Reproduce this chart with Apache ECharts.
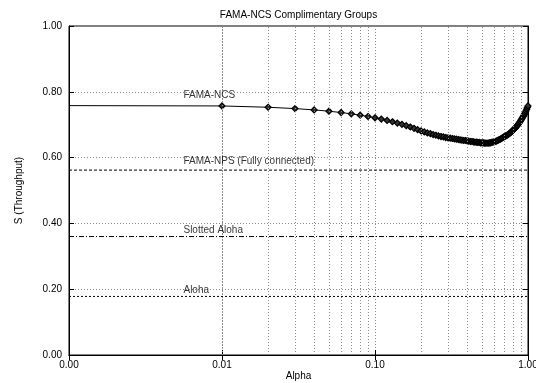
<!DOCTYPE html>
<html>
<head>
<meta charset="utf-8">
<script src="https://cdn.jsdelivr.net/npm/echarts@6/dist/echarts.min.js"></script>
<style>
  html, body { margin: 0; padding: 0; background: #fff; }
  #chart { width: 536px; height: 383px; }
</style>
</head>
<body>
<div id="chart"></div>
<script>
// Alpha sample points (first one only anchors the line at the left edge)
const alpha = [
  0.001,
  0.01, 0.02, 0.03, 0.04, 0.05, 0.06, 0.07, 0.08, 0.09, 0.10,
  0.11, 0.12, 0.13, 0.14, 0.15, 0.16, 0.17, 0.18, 0.19, 0.20,
  0.21, 0.22, 0.23, 0.24, 0.25, 0.26, 0.27, 0.28, 0.29, 0.30,
  0.31, 0.32, 0.33, 0.34, 0.35, 0.36, 0.37, 0.38, 0.39, 0.40,
  0.41, 0.42, 0.43, 0.44, 0.45, 0.46, 0.47, 0.48, 0.49, 0.50,
  0.51, 0.52, 0.53, 0.54, 0.55, 0.56, 0.57, 0.58, 0.59, 0.60,
  0.61, 0.62, 0.63, 0.64, 0.65, 0.66, 0.67, 0.68, 0.69, 0.70,
  0.71, 0.72, 0.73, 0.74, 0.75, 0.76, 0.77, 0.78, 0.79, 0.80,
  0.81, 0.82, 0.83, 0.84, 0.85, 0.86, 0.87, 0.88, 0.89, 0.90,
  0.91, 0.92, 0.93, 0.94, 0.95, 0.96, 0.97, 0.98, 0.99, 1.00
];

// FAMA-NCS throughput S for each alpha
const famaNcs = [
  0.758,
  0.757, 0.753, 0.749, 0.745, 0.741, 0.737, 0.733, 0.729, 0.725, 0.721,
  0.717, 0.713, 0.709, 0.705, 0.701, 0.697, 0.693, 0.689, 0.685, 0.681,
  0.678, 0.675, 0.673, 0.670, 0.668, 0.666, 0.664, 0.663, 0.661, 0.660,
  0.659, 0.658, 0.657, 0.656, 0.655, 0.654, 0.653, 0.652, 0.652, 0.651,
  0.650, 0.649, 0.649, 0.648, 0.647, 0.647, 0.646, 0.646, 0.645, 0.645,
  0.645, 0.644, 0.644, 0.644, 0.644, 0.645, 0.645, 0.646, 0.647, 0.648,
  0.649, 0.650, 0.652, 0.653, 0.655, 0.656, 0.658, 0.660, 0.662, 0.664,
  0.665, 0.667, 0.668, 0.670, 0.672, 0.674, 0.676, 0.679, 0.681, 0.684,
  0.686, 0.689, 0.691, 0.694, 0.697, 0.700, 0.704, 0.707, 0.710, 0.714,
  0.717, 0.721, 0.725, 0.729, 0.733, 0.737, 0.742, 0.747, 0.752, 0.757
];

// Constant-throughput reference protocols
const famaNpsLevel = 0.562;
const slottedAlohaLevel = 0.360;
const alohaLevel = 0.178;

// Axis extents
const alphaRange = [0.001, 1];
const sRange = [0, 1];
const sStep = 0.2;

// Intermediate log grid lines (2..9 within each decade)
const alphaMinorGrid = [
  0.002, 0.003, 0.004, 0.005, 0.006, 0.007, 0.008, 0.009,
  0.02, 0.03, 0.04, 0.05, 0.06, 0.07, 0.08, 0.09,
  0.2, 0.3, 0.4, 0.5, 0.6, 0.7, 0.8, 0.9
];

// In-plot curve captions: text, anchor alpha, anchor S
const captionText = ['FAMA-NCS', 'FAMA-NPS (Fully connected)', 'Slotted Aloha', 'Aloha'];
const captionAlpha = [0.0056, 0.0056, 0.0056, 0.0056];
const captionS = [0.790, 0.588, 0.378, 0.198];

const FONT = "'Liberation Sans', Arial, Helvetica, sans-serif";
const gridDots = { color: '#8c8c8c', width: 1, type: [1, 2] };

const ncsData = alpha.map((a, i) =>
  i === 0 ? { value: [a, famaNcs[i]], symbol: 'none' } : [a, famaNcs[i]]
);
const flat = v => [[alphaRange[0], v], [alphaRange[1], v]];

const chart = echarts.init(document.getElementById('chart'), null, { renderer: 'canvas' });

chart.setOption({
  animation: false,
  backgroundColor: '#fff',
  textStyle: { fontFamily: FONT },
  grid: {
    left: 69, right: 8, top: 26, bottom: 28,
    containLabel: false,
    outerBoundsMode: 'none',
    show: true, borderColor: '#000', borderWidth: 1
  },
  xAxis: [
    {
      type: 'log', logBase: 10, min: alphaRange[0], max: alphaRange[1],
      position: 'bottom',
      name: 'Alpha', nameLocation: 'middle', nameGap: 16, nameMoveOverlap: false,
      nameTextStyle: { fontFamily: FONT, fontSize: 10, color: '#000' },
      axisLine: { show: true, lineStyle: { color: '#000', width: 1 } },
      axisTick: { show: true, inside: true, length: 5, lineStyle: { color: '#000' } },
      axisLabel: {
        fontFamily: FONT, fontSize: 10, color: '#000', margin: 5,
        showMinLabel: true, showMaxLabel: true,
        formatter: v => Number(v).toFixed(2)
      },
      splitLine: { show: true, lineStyle: gridDots }
    },
    {
      type: 'log', logBase: 10, min: alphaRange[0], max: alphaRange[1],
      position: 'top',
      name: 'FAMA-NCS Complimentary Groups', nameLocation: 'middle', nameGap: 6,
      nameMoveOverlap: false,
      nameTextStyle: { fontFamily: FONT, fontSize: 10, color: '#000' },
      axisLine: { show: true, lineStyle: { color: '#000', width: 1 } },
      axisTick: { show: true, inside: true, length: 5, lineStyle: { color: '#000' } },
      axisLabel: { show: false },
      splitLine: { show: false }
    }
  ],
  yAxis: [
    {
      type: 'value', min: sRange[0], max: sRange[1], interval: sStep,
      position: 'left',
      name: 'S (Throughput)', nameLocation: 'middle', nameGap: 45, nameMoveOverlap: false,
      nameTextStyle: { fontFamily: FONT, fontSize: 10, color: '#000' },
      axisLine: { show: true, lineStyle: { color: '#000', width: 1 } },
      axisTick: { show: true, inside: true, length: 5, lineStyle: { color: '#000' } },
      axisLabel: {
        fontFamily: FONT, fontSize: 10, color: '#000', margin: 7,
        formatter: v => Number(v).toFixed(2)
      },
      splitLine: { show: true, lineStyle: gridDots }
    },
    {
      type: 'value', min: sRange[0], max: sRange[1], interval: sStep,
      position: 'right',
      axisLine: { show: true, lineStyle: { color: '#000', width: 1 } },
      axisTick: { show: true, inside: true, length: 5, lineStyle: { color: '#000' } },
      axisLabel: { show: false },
      splitLine: { show: false }
    }
  ],
  series: [
    {
      // carrier for the in-between log grid lines
      name: 'minor-grid', type: 'line', silent: true, z: 1,
      data: flat(0), symbol: 'none', lineStyle: { opacity: 0 },
      markLine: {
        silent: true, symbol: 'none', label: { show: false },
        animation: false,
        lineStyle: gridDots,
        emphasis: { disabled: true },
        data: alphaMinorGrid.map(v => ({ xAxis: v }))
      }
    },
    {
      name: 'Aloha', type: 'line', z: 3, data: flat(alohaLevel),
      symbol: 'none', lineStyle: { color: '#000', width: 1, type: [2, 2] }
    },
    {
      name: 'Slotted Aloha', type: 'line', z: 3, data: flat(slottedAlohaLevel),
      symbol: 'none', lineStyle: { color: '#000', width: 1, type: [5, 2, 1, 2] }
    },
    {
      name: 'FAMA-NPS (Fully connected)', type: 'line', z: 3, data: flat(famaNpsLevel),
      symbol: 'none', lineStyle: { color: '#000', width: 1, type: [3, 2] }
    },
    {
      name: 'FAMA-NCS', type: 'line', z: 4, data: ncsData,
      symbol: 'diamond', symbolSize: 6, showSymbol: true,
      lineStyle: { color: '#000', width: 1 },
      itemStyle: { color: '#333', borderColor: '#000', borderWidth: 1.2 }
    },
    {
      name: 'captions', type: 'scatter', z: 5, silent: true,
      symbolSize: 0,
      data: captionText.map((t, i) => ({ name: t, value: [captionAlpha[i], captionS[i]] })),
      label: {
        show: true, position: 'right', distance: 0,
        formatter: p => p.name,
        fontFamily: FONT, fontSize: 10, color: '#000'
      }
    }
  ]
});
</script>
</body>
</html>
